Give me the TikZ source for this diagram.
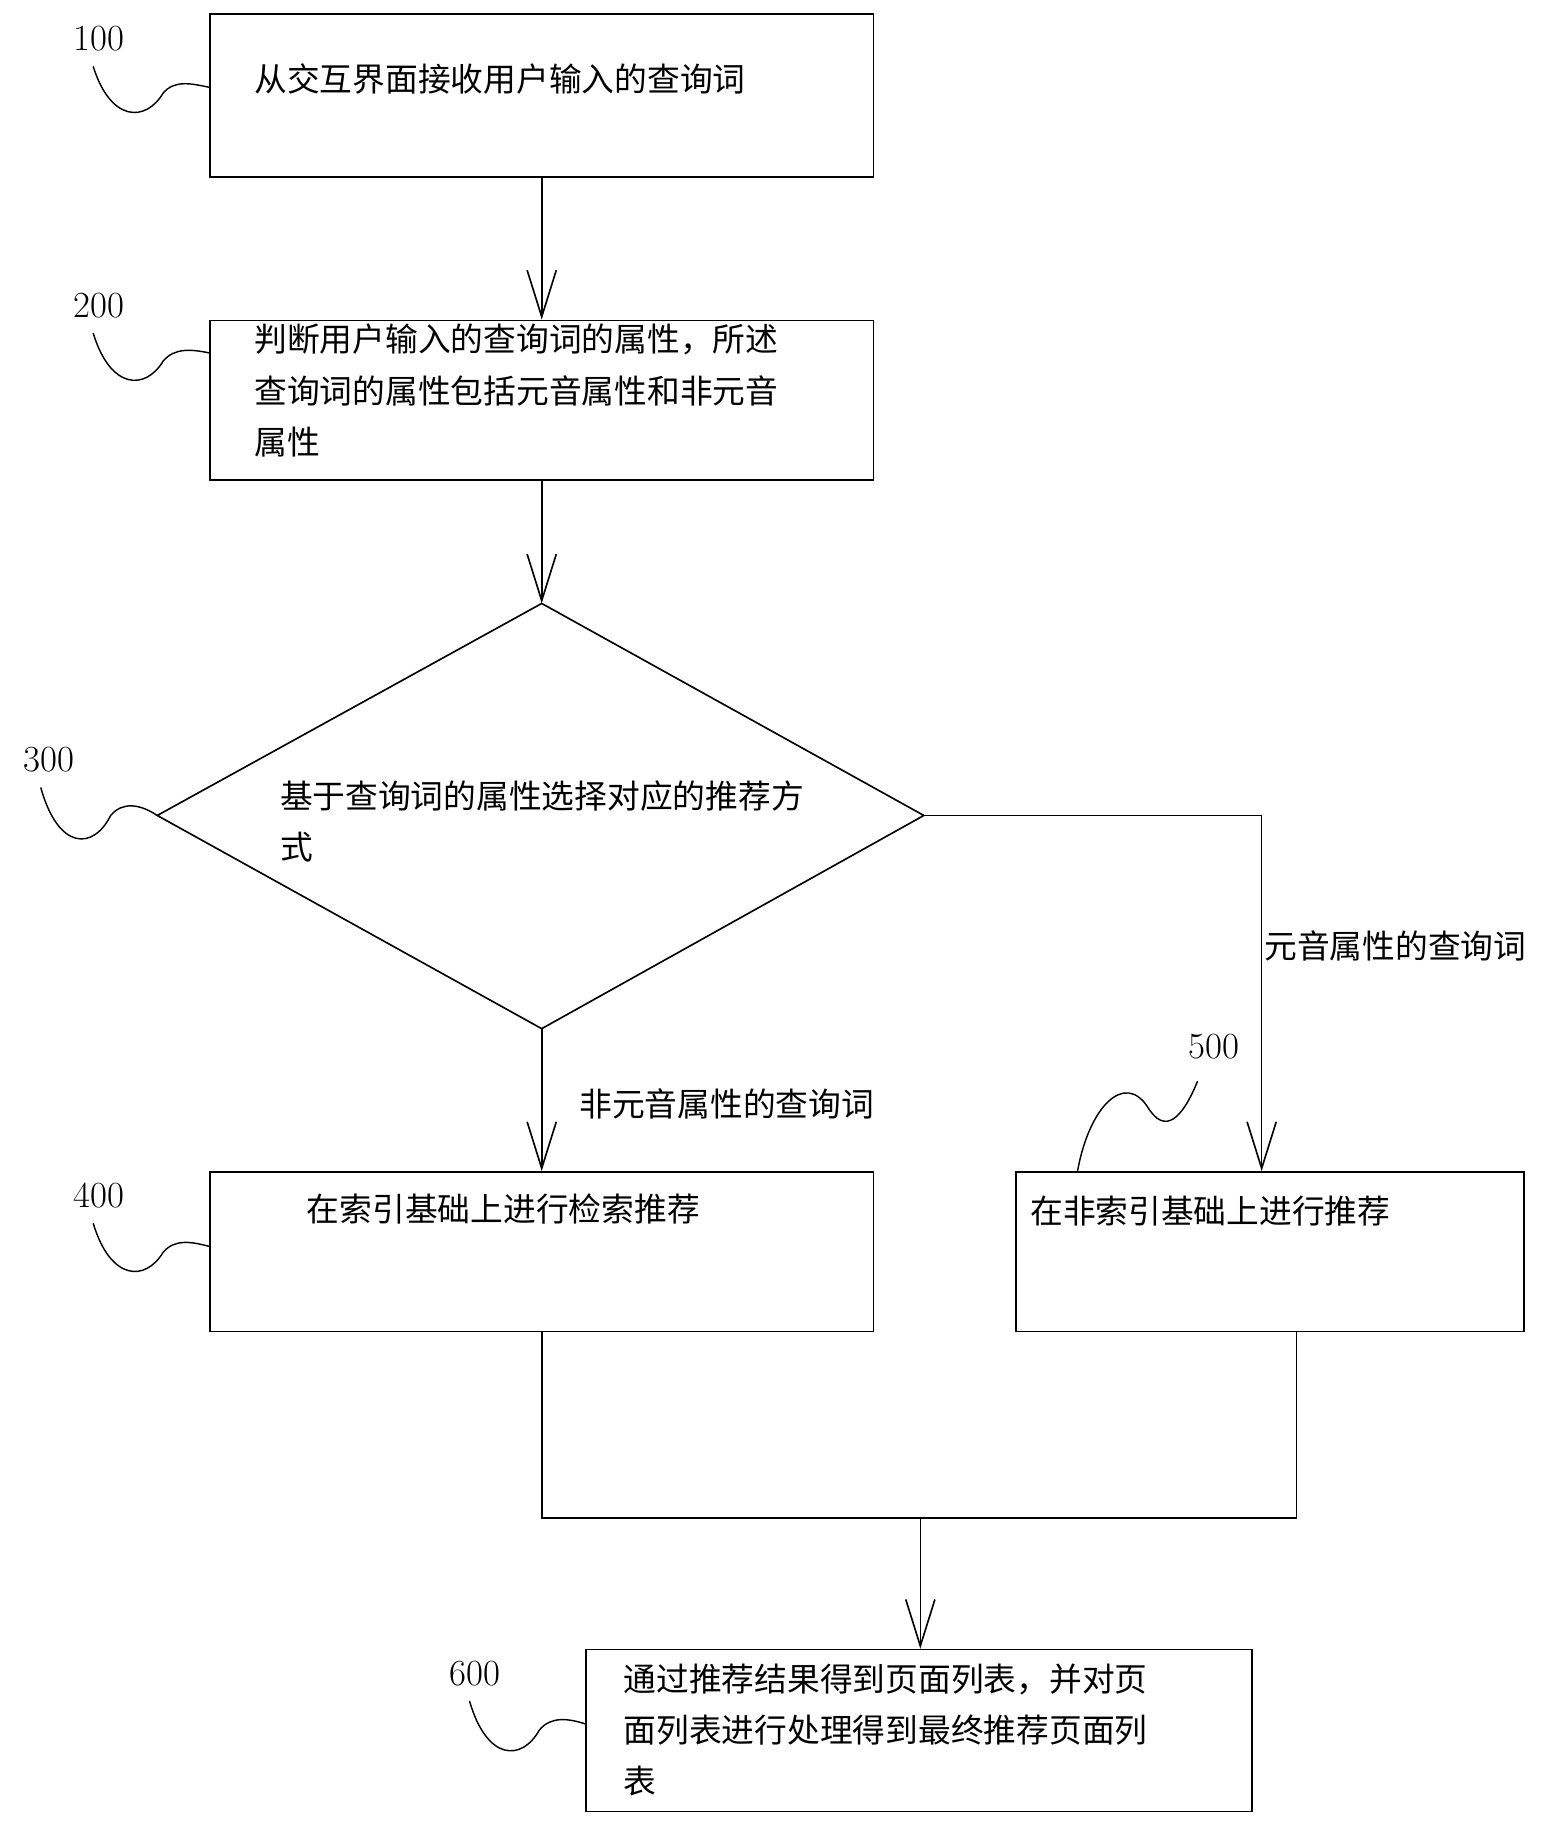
\documentclass[tikz,border=0pt]{standalone}
\usepackage{fontspec}
\newfontfamily\cjk{Noto Sans CJK SC}
\usetikzlibrary{arrows.meta,shapes.geometric}

\tikzset{
  box/.style={draw, line width=0.8pt, inner sep=0pt},
  txt/.style={font=\cjk\fontsize{16}{25}\selectfont, anchor=west, align=left, inner sep=0pt},
  num/.style={font=\fontsize{18}{18}\selectfont, inner sep=0pt},
  flow/.style={line width=0.8pt, -{Straight Barb[length=0.8cm, width=0.5cm, line width=0.8pt]}},
  lead/.style={line width=0.7pt}
}

\begin{document}
\begin{tikzpicture}[x=0.02cm, y=-0.02cm]
    \useasboundingbox (0,0) rectangle (1340,1564);

    % steps
    \node[box, minimum width=11.4cm, minimum height=2.8cm] (s100) at (465,82) {};
    \node[txt] (t100) at (218,68) {从交互界面接收用户输入的查询词};
    \node[box, minimum width=11.4cm, minimum height=2.74cm] (s200) at (465,343.5) {};
    \node[txt, anchor=north west] (t200) at (218,278) {判断用户输入的查询词的属性，所述\\查询词的属性包括元音属性和非元音\\属性};
    \coordinate (dt) at (465,518);
    \coordinate (dl) at (135,700);
    \coordinate (dr) at (793,700);
    \coordinate (db) at (465,883);
    \draw[line width=0.8pt] (dt) -- (dr) -- (db) -- (dl) -- cycle;
    \node[txt, anchor=north west] (t300) at (240,670) {基于查询词的属性选择对应的推荐方\\式};
    \node[box, minimum width=11.4cm, minimum height=2.74cm] (s400) at (465,1074.5) {};
    \node[txt] (t400) at (263,1038) {在索引基础上进行检索推荐};
    \node[box, minimum width=8.72cm, minimum height=2.74cm] (s500) at (1090,1074.5) {};
    \node[txt] (t500) at (884,1040) {在非索引基础上进行推荐};
    \node[box, minimum width=11.44cm, minimum height=2.78cm] (s600) at (789,1485.5) {};
    \node[txt, anchor=north west] (t600) at (535,1428) {通过推荐结果得到页面列表，并对页\\面列表进行处理得到最终推荐页面列\\表};

    % connectors
    \draw[flow] (s100.south) -- (s200.north);
    \draw[flow] (s200.south) -- (dt);
    \draw[flow] (db) -- (s400.north);
    \coordinate (c5) at (1083,700);
    \draw[flow] (dr) -- (c5) -- (c5 |- s500.north);
    \node[txt] (y1) at (497,948) {非元音属性的查询词};
    \node[txt] (y2) at (1085,812) {元音属性的查询词};
    \coordinate (m4) at (465,1303);
    \coordinate (m5) at (1113,1303);
    \coordinate (m6) at (790,1303);
    \draw[line width=0.8pt] (m4 |- s400.south) -- (m4) -- (m5) -- (m5 |- s400.south);
    \draw[flow] (m6) -- (m6 |- s600.north);

    % step numbers
    \node[num] (n100) at (85,33) {100};
    \node[num] (n200) at (85,262) {200};
    \node[num] (n300) at (42,652) {300};
    \node[num] (n400) at (85,1026) {400};
    \node[num] (n500) at (1042,898) {500};
    \node[num] (n600) at (408,1437) {600};
    \draw[lead] (80,57) .. controls (95,105) and (125,105) .. (140,80) .. controls (150,68) and (165,72) .. (180,75);
    \draw[lead] (80,286) .. controls (95,335) and (125,335) .. (140,310) .. controls (150,298) and (165,300) .. (180,303);
    \draw[lead] (35,676) .. controls (50,730) and (80,730) .. (95,700) .. controls (105,688) and (120,690) .. (135,700);
    \draw[lead] (80,1050) .. controls (95,1100) and (125,1100) .. (140,1075) .. controls (150,1063) and (165,1066) .. (180,1070);
    \draw[lead] (925,1005) .. controls (935,950) and (965,920) .. (985,950) .. controls (1000,975) and (1015,960) .. (1028,928);
    \draw[lead] (403,1460) .. controls (418,1512) and (448,1512) .. (463,1485) .. controls (473,1473) and (488,1475) .. (503,1480);
\end{tikzpicture}
\end{document}
